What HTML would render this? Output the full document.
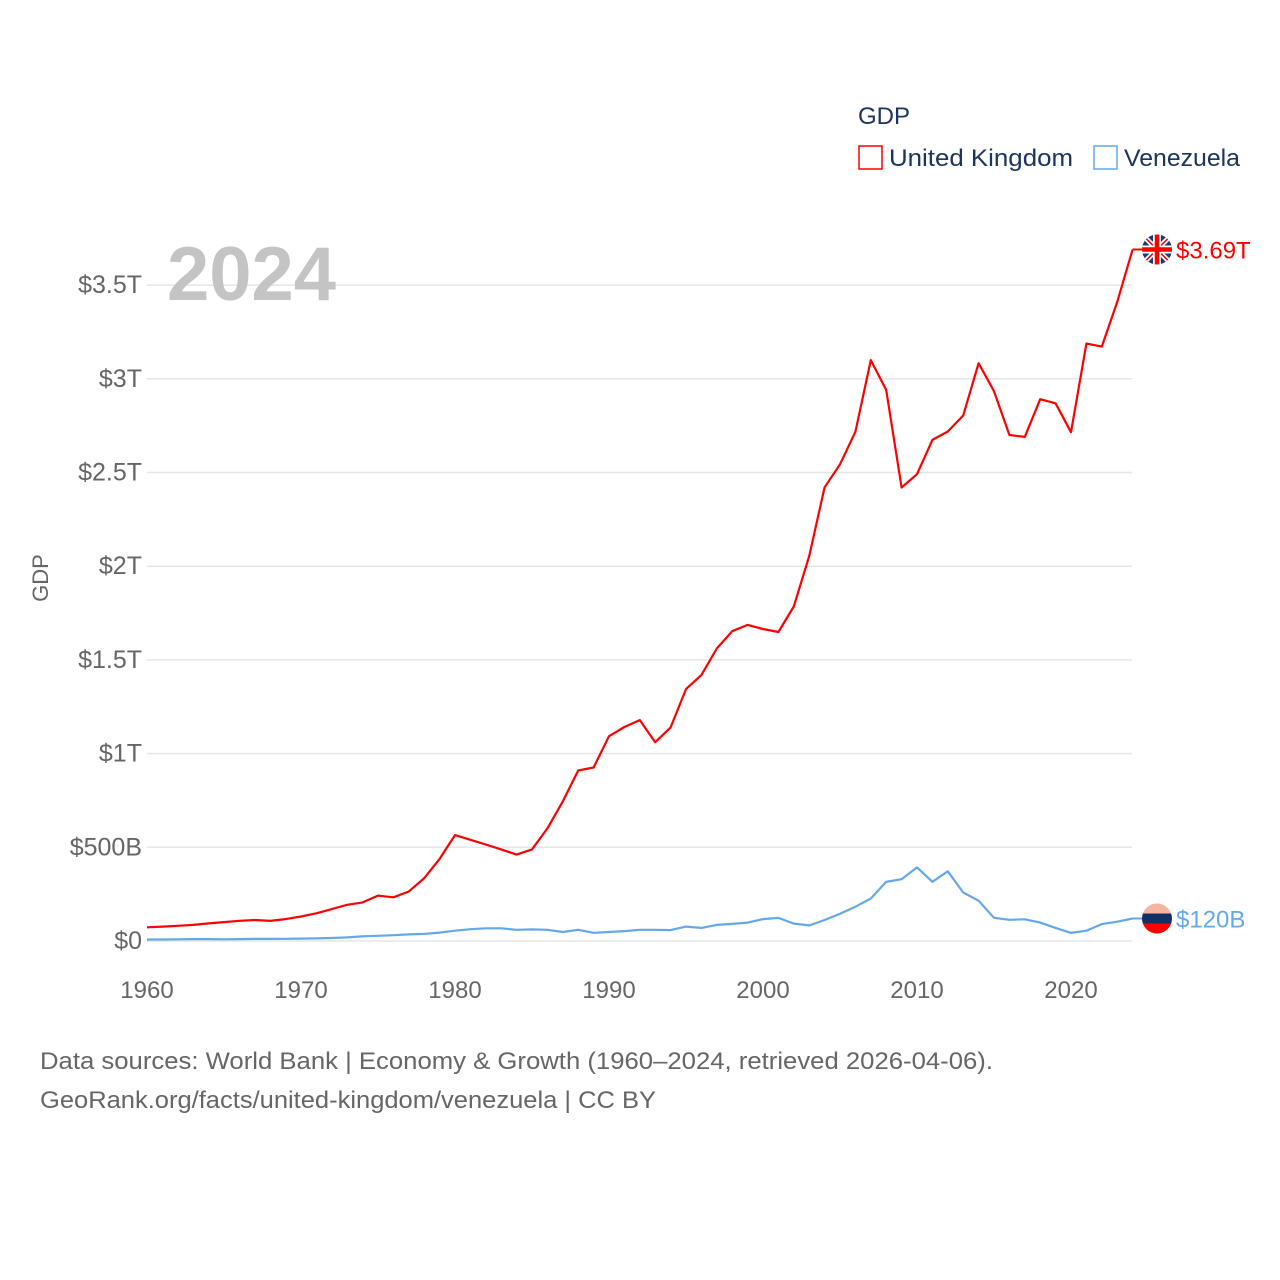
<!DOCTYPE html>
<html><head><meta charset="utf-8"><style>
body{margin:0;background:#fff;font-family:"Liberation Sans",sans-serif}
svg{display:block}
</style></head><body>
<svg id="chart" width="1280" height="1280" xmlns="http://www.w3.org/2000/svg">
<g id="grid"></g>
<g id="yticks"></g>
<g id="xticks"></g>
<text x="48" y="578" transform="rotate(-90 48 578)" text-anchor="middle" font-size="22" fill="#666">GDP</text>
<text x="167" y="300" font-size="76" font-weight="bold" fill="#c4c4c4">2024</text>
<text x="858" y="124" font-size="24" fill="#1c3461">GDP</text>
<g><rect x="859" y="146" width="23" height="23" fill="none" stroke="#ff0000" stroke-width="1.5"/><text x="889" y="166" font-size="24" fill="#1c3461" textLength="184" lengthAdjust="spacingAndGlyphs">United Kingdom</text></g>
<g><rect x="1094" y="146" width="23" height="23" fill="none" stroke="#64a8ec" stroke-width="1.5"/><text x="1124" y="166" font-size="24" fill="#1c3461" textLength="116" lengthAdjust="spacingAndGlyphs">Venezuela</text></g>
<g id="series"></g>
<text x="40" y="1069" font-size="24" fill="#666" textLength="953" lengthAdjust="spacingAndGlyphs">Data sources: World Bank | Economy &amp; Growth (1960–2024, retrieved 2026-04-06).</text>
<text x="40" y="1108" font-size="24" fill="#666" textLength="616" lengthAdjust="spacingAndGlyphs">GeoRank.org/facts/united-kingdom/venezuela | CC BY</text>
</svg>
<script>
const years = [];for(let y=1960;y<=2024;y++)years.push(y);
const ukGdp = [0.073,0.077,0.081,0.086,0.094,0.101,0.108,0.112,0.107,0.117,0.131,0.148,0.170,0.193,0.206,0.242,0.233,0.264,0.335,0.438,0.565,0.540,0.515,0.489,0.461,0.489,0.601,0.745,0.910,0.926,1.093,1.142,1.179,1.061,1.140,1.344,1.419,1.561,1.653,1.687,1.665,1.649,1.785,2.054,2.421,2.544,2.717,3.100,2.940,2.420,2.491,2.674,2.719,2.804,3.083,2.934,2.700,2.690,2.891,2.869,2.715,3.188,3.172,3.410,3.690];
const veGdp = [0.008,0.008,0.009,0.010,0.010,0.009,0.010,0.011,0.011,0.012,0.013,0.014,0.016,0.019,0.025,0.028,0.031,0.035,0.038,0.045,0.055,0.063,0.068,0.068,0.060,0.062,0.060,0.048,0.060,0.044,0.048,0.053,0.060,0.060,0.058,0.077,0.070,0.086,0.091,0.098,0.117,0.123,0.093,0.083,0.112,0.145,0.183,0.227,0.316,0.330,0.393,0.316,0.372,0.259,0.215,0.124,0.113,0.116,0.098,0.070,0.043,0.055,0.090,0.103,0.120];
const yTickVals = [0,0.5,1,1.5,2,2.5,3,3.5];
const yTickLabels = ["$0","$500B","$1T","$1.5T","$2T","$2.5T","$3T","$3.5T"];
const xTickVals = [1960,1970,1980,1990,2000,2010,2020];
const NS="http://www.w3.org/2000/svg";
const X=y=>147+(y-1960)*15.4;
const Y=v=>941-v*187.4;
function mk(tag,attrs,parent){const e=document.createElementNS(NS,tag);for(const k in attrs)e.setAttribute(k,attrs[k]);parent.appendChild(e);return e;}
const grid=document.getElementById('grid'),yt=document.getElementById('yticks'),xt=document.getElementById('xticks'),ser=document.getElementById('series');
yTickVals.forEach((v,i)=>{
  const l=mk('line',{x1:147,x2:1132,y1:Y(v),y2:Y(v),stroke:'#e6e6e6','stroke-width':1.5},grid);
  
  
  const t=mk('text',{x:142,y:Y(v)+8,'text-anchor':'end','font-size':25,fill:'#666'},yt);
  t.textContent=yTickLabels[i];
  
  
});
xTickVals.forEach(v=>{
  const t=mk('text',{x:X(v),y:998,'text-anchor':'middle','font-size':24,fill:'#666'},xt);
  t.textContent=v;
  
  
});
function line(vals,color,name){
  const d=vals.map((v,i)=>(i?'L':'M')+X(years[i]).toFixed(1)+' '+Y(v).toFixed(1)).join(' ');
  const p=mk('path',{d:d,fill:'none',stroke:color,'stroke-width':2.2,'stroke-linejoin':'round'},ser);
  
  
}
line(veGdp,'#64a8ec','venezuela-line');
line(ukGdp,'#ff0000','uk-line');
const lastUk=ukGdp[ukGdp.length-1], lastVe=veGdp[veGdp.length-1];
const xe=X(2024);
mk('line',{x1:xe,x2:1145,y1:Y(lastUk),y2:Y(lastUk),stroke:'#ff0000','stroke-width':2},ser);
mk('line',{x1:xe,x2:1145,y1:Y(lastVe),y2:Y(lastVe),stroke:'#64a8ec','stroke-width':2},ser);
const fu=mk('g',{},ser);


const cy=Y(lastUk);
const cpu=mk('clipPath',{id:'cu'},fu);mk('circle',{cx:1157,cy:cy,r:15},cpu);
const gu=mk('g',{'clip-path':'url(#cu)'},fu);
mk('rect',{x:1142,y:cy-15,width:30,height:30,fill:'#1c3a72'},gu);
mk('path',{d:`M1142 ${cy-15}L1172 ${cy+15}M1172 ${cy-15}L1142 ${cy+15}`,stroke:'#fff','stroke-width':5},gu);
mk('path',{d:`M1142 ${cy-15}L1172 ${cy+15}M1172 ${cy-15}L1142 ${cy+15}`,stroke:'#e00','stroke-width':1.5},gu);
mk('path',{d:`M1157 ${cy-15}V${cy+15}M1142 ${cy}H1172`,stroke:'#fff','stroke-width':8},gu);
mk('path',{d:`M1157 ${cy-15}V${cy+15}M1142 ${cy}H1172`,stroke:'#f00','stroke-width':4.5},gu);
const tu=mk('text',{x:1176,y:cy+9,'font-size':24,fill:'#ff0000'},ser);
tu.textContent='$3.69T';


const fv=mk('g',{},ser);


const vy=Y(lastVe);
const cpv=mk('clipPath',{id:'cv'},fv);mk('circle',{cx:1157,cy:vy,r:15},cpv);
const gv=mk('g',{'clip-path':'url(#cv)'},fv);
mk('rect',{x:1142,y:vy-15,width:30,height:10,fill:'#f6b4a2'},gv);
mk('rect',{x:1142,y:vy-5,width:30,height:10,fill:'#123066'},gv);
mk('rect',{x:1142,y:vy+5,width:30,height:10,fill:'#f00'},gv);
const tv=mk('text',{x:1176,y:vy+9,'font-size':24,fill:'#64a8ec'},ser);
tv.textContent='$120B';


</script>
</body></html>
